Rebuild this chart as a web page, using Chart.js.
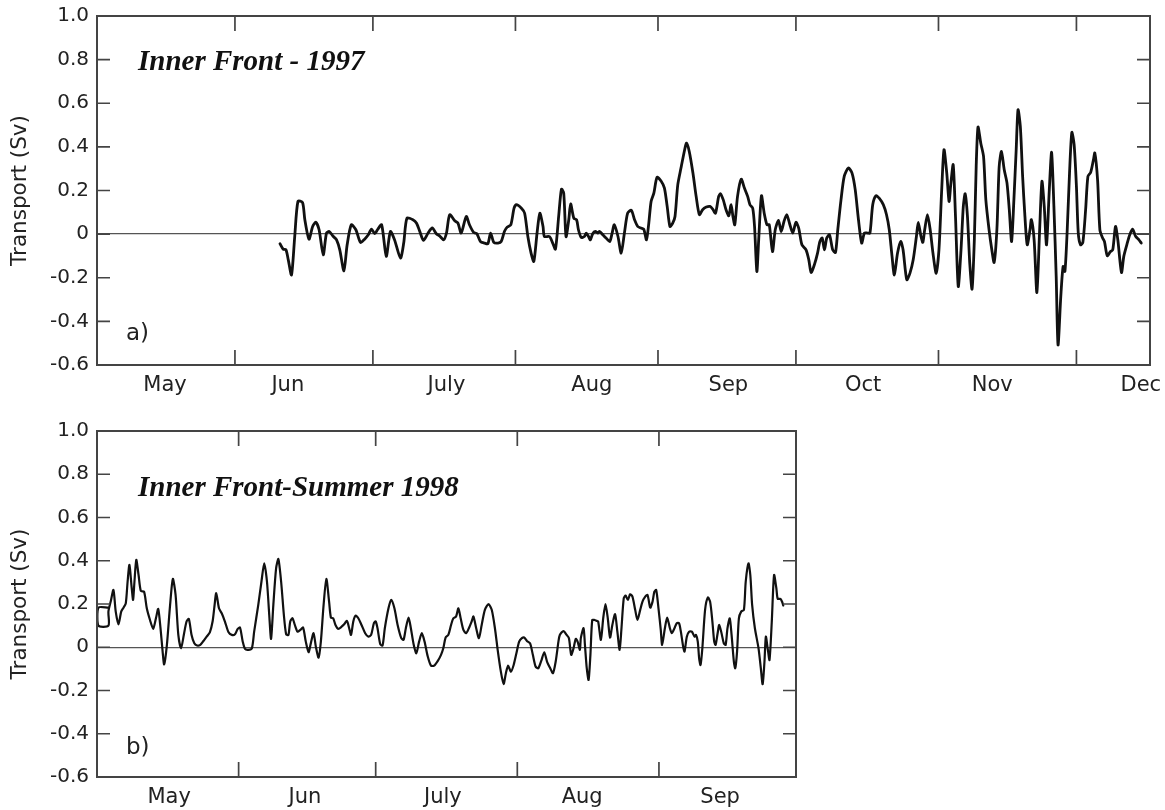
<!DOCTYPE html>
<html>
<head>
<meta charset="utf-8">
<title>Inner Front transport</title>
<script src="https://cdn.jsdelivr.net/npm/chart.js@4"></script>
<style>
  body { margin: 0; background: #fff; }
  canvas { position: absolute; left: 0; }
  #chart97 { top: 0; }
  #chart98 { top: 410px; }
</style>
</head>
<body>
<canvas id="chart97" width="1165" height="405"></canvas>
<canvas id="chart98" width="812" height="400"></canvas>
<script>
// x axis unit: days after 1 May
const monthNames97 = ['May', 'Jun', 'July', 'Aug', 'Sep', 'Oct', 'Nov', 'Dec'];
const monthLabelDays97 = [15.8, 42.5, 77.0, 108.6, 138.3, 167.6, 195.7, 228.0];
const monthStarts97 = [31, 61, 92, 123, 153, 184, 214];

const monthNames98 = ['May', 'Jun', 'July', 'Aug', 'Sep'];
const monthLabelDays98 = [15.8, 45.5, 75.7, 106.2, 136.4];
const monthStarts98 = [31, 61, 92, 123];

const yTickValues = [-0.6, -0.4, -0.2, 0, 0.2, 0.4, 0.6, 0.8, 1.0];

// 1997 record (Sv)
const days97 = [
  40.8, 41.5, 42.1, 42.6, 43.3, 44.0, 44.7, 45.7, 46.2, 47.1, 47.9, 48.6, 49.3, 50.2, 50.9, 51.5,
  52.4, 53.1, 53.8, 54.7, 55.4, 56.3, 57.3, 58.3, 59.2, 60.0, 60.7, 61.4, 62.0, 62.9, 63.9, 64.8,
  65.7, 67.0, 67.7, 68.4, 69.7, 70.5, 71.2, 72.0, 73.0, 73.9, 74.8, 75.5, 76.4, 77.0, 77.7, 78.8,
  79.5, 80.2, 81.3, 82.0, 82.9, 83.6, 84.4, 85.3, 86.0, 86.6, 87.3, 88.2, 88.9, 89.6, 90.2, 91.0,
  91.7, 92.2, 93.3, 94.0, 94.7, 95.4, 96.0, 96.7, 97.3, 98.0, 98.3, 99.4, 100.1, 100.7, 101.4, 102.0,
  102.5, 103.0, 103.6, 104.0, 104.7, 105.3, 105.7, 106.3, 107.0, 107.4, 107.9, 108.3, 108.8, 109.4, 109.9, 110.3,
  111.0, 111.7, 112.5, 113.0, 113.5, 114.3, 115.0, 115.7, 116.4, 117.2, 117.9, 118.6, 119.3, 119.9, 120.5, 121.0,
  121.5, 122.1, 122.8, 123.7, 124.4, 125.0, 125.6, 126.2, 126.7, 127.3, 128.0, 128.8, 129.2, 129.8, 130.6, 131.3,
  132.0, 132.7, 133.5, 134.3, 134.9, 135.5, 136.2, 136.6, 137.2, 137.8, 138.4, 138.9, 139.3, 139.7, 140.3, 141.1,
  141.8, 142.5, 143.0, 143.6, 144.0, 144.5, 144.9, 145.5, 146.1, 146.7, 147.2, 147.9, 148.5, 149.2, 149.8, 150.4,
  151.0, 151.6, 152.3, 153.0, 153.6, 154.3, 155.2, 155.8, 156.3, 157.0, 157.7, 158.2, 158.7, 159.2, 159.7, 160.3,
  161.0, 161.6, 162.1, 162.8, 163.5, 164.4, 165.2, 165.9, 166.6, 167.3, 167.9, 168.6, 169.1, 169.7, 170.4, 171.1,
  172.0, 172.7, 173.3, 173.9, 174.4, 175.1, 175.8, 176.3, 177.1, 177.8, 178.5, 179.2, 179.6, 180.2, 180.6, 181.0,
  181.6, 182.2, 182.8, 183.5, 184.1, 184.7, 185.2, 185.8, 186.3, 186.7, 187.2, 187.7, 188.3, 188.9, 189.4, 189.8,
  190.3, 190.8, 191.3, 191.8, 192.2, 192.6, 193.2, 193.8, 194.3, 195.0, 195.6, 196.1, 196.7, 197.2, 197.7, 198.3,
  198.9, 199.4, 199.9, 200.4, 200.9, 201.3, 201.8, 202.3, 202.8, 203.3, 203.9, 204.2, 204.8, 205.4, 206.0, 206.5,
  207.0, 207.5, 208.1, 208.6, 209.1, 209.6, 210.0, 210.6, 211.1, 211.5, 212.0, 212.5, 213.0, 213.5, 214.0, 214.4,
  214.9, 215.4, 216.0, 216.5, 217.1, 217.7, 218.0, 218.6, 219.1, 219.7, 220.1, 220.7, 221.4, 221.9, 222.5, 223.0,
  223.8, 224.3, 225.1, 225.6, 226.2, 226.9, 227.6, 228.1
];
const transport97 = [
  -0.044, -0.069, -0.072, -0.118, -0.187, -0.011, 0.150, 0.145, 0.066, -0.023, 0.035, 0.055, 0.020, -0.095, 0.005, 0.012,
  -0.011, -0.026, -0.072, -0.168, -0.049, 0.043, 0.020, -0.038, -0.023, -0.003, 0.023, 0.002, 0.020, 0.043, -0.102, 0.012,
  -0.026, -0.110, -0.041, 0.073, 0.066, 0.050, 0.012, -0.029, 0.005, 0.028, 0.002, -0.008, -0.026, 0.005, 0.089, 0.061,
  0.050, 0.005, 0.081, 0.043, 0.008, 0.002, -0.034, -0.041, -0.044, 0.005, -0.038, -0.041, -0.034, 0.012, 0.032, 0.043,
  0.119, 0.135, 0.119, 0.096, -0.011, -0.087, -0.125, 0.005, 0.096, 0.035, -0.011, -0.011, -0.041, -0.069, 0.081, 0.206,
  0.188, -0.011, 0.066, 0.139, 0.073, 0.066, 0.020, -0.015, -0.011, 0.005, -0.011, -0.026, 0.002, 0.012, 0.005, 0.012,
  -0.003, -0.018, -0.034, 0.002, 0.043, -0.011, -0.087, 0.005, 0.096, 0.109, 0.066, 0.035, 0.028, 0.023, -0.026, 0.050,
  0.150, 0.188, 0.261, 0.242, 0.211, 0.127, 0.035, 0.050, 0.081, 0.226, 0.303, 0.387, 0.417, 0.379, 0.280, 0.173,
  0.089, 0.112, 0.124, 0.127, 0.115, 0.096, 0.173, 0.185, 0.157, 0.112, 0.084, 0.135, 0.081, 0.043, 0.173, 0.252,
  0.211, 0.173, 0.135, 0.119, 0.035, -0.171, -0.026, 0.176, 0.096, 0.043, 0.043, -0.080, 0.020, 0.063, 0.012, 0.058,
  0.089, 0.050, 0.005, 0.054, 0.028, -0.049, -0.072, -0.118, -0.176, -0.141, -0.087, -0.034, -0.018, -0.072, -0.018, -0.003,
  -0.072, -0.084, 0.020, 0.157, 0.265, 0.303, 0.280, 0.203, 0.066, -0.041, 0.005, 0.005, 0.005, 0.135, 0.176, 0.165,
  0.135, 0.089, 0.020, -0.102, -0.187, -0.087, -0.034, -0.072, -0.209, -0.179, -0.118, -0.011, 0.054, -0.011, -0.038, 0.020,
  0.089, 0.020, -0.087, -0.179, -0.072, 0.203, 0.387, 0.280, 0.150, 0.234, 0.318, 0.081, -0.240, -0.072, 0.127, 0.185,
  0.081, -0.133, -0.252, -0.026, 0.310, 0.491, 0.417, 0.356, 0.157, 0.020, -0.072, -0.130, 0.020, 0.310, 0.379, 0.295,
  0.234, 0.112, -0.034, 0.157, 0.387, 0.570, 0.494, 0.265, 0.081, -0.049, 0.020, 0.066, -0.026, -0.268, 0.020, 0.242,
  0.127, -0.049, 0.203, 0.375, 0.127, -0.194, -0.508, -0.286, -0.148, -0.171, 0.020, 0.280, 0.466, 0.410, 0.219, 0.005,
  -0.049, -0.038, 0.112, 0.265, 0.283, 0.341, 0.372, 0.249, 0.020, -0.018, -0.034, -0.099, -0.080, -0.072, 0.035, -0.026,
  -0.176, -0.102, -0.038, -0.003, 0.023, -0.011, -0.026, -0.041
];

// summer 1998 record (Sv); the first few points trace the small loop at the start
const days98 = [
  2.5, 0.3, 0.3, 2.5, 2.5, 3.0, 3.6, 4.1, 4.7, 5.3, 5.8, 6.3, 6.7, 7.1, 7.6, 7.9,
  8.2, 8.6, 9.1, 9.6, 10.3, 10.9, 11.6, 12.3, 12.9, 13.4, 13.9, 14.4, 14.7, 15.3, 16.0, 16.6,
  17.2, 17.8, 18.4, 19.0, 19.6, 20.1, 20.7, 21.3, 21.9, 22.6, 23.3, 24.0, 24.7, 25.3, 25.7, 26.1,
  26.7, 27.3, 28.0, 28.8, 29.5, 30.2, 30.8, 31.3, 31.9, 32.4, 33.1, 33.9, 34.4, 35.3, 36.0, 36.6,
  37.2, 37.7, 38.1, 38.6, 39.2, 39.7, 40.3, 40.9, 41.4, 41.9, 42.3, 42.8, 43.3, 43.9, 44.5, 45.1,
  45.7, 46.3, 46.8, 47.4, 47.9, 48.5, 49.0, 49.6, 50.2, 50.8, 51.2, 51.7, 52.2, 52.8, 53.6, 54.1,
  54.7, 55.2, 55.6, 56.1, 56.6, 57.2, 57.9, 58.7, 59.4, 60.0, 60.6, 61.0, 61.4, 62.0, 62.5, 63.0,
  63.8, 64.4, 65.1, 65.8, 66.6, 67.1, 67.6, 68.2, 68.7, 69.3, 69.9, 70.5, 71.1, 71.7, 72.4, 73.1,
  73.8, 74.6, 75.3, 75.8, 76.3, 76.9, 77.5, 78.0, 78.6, 79.1, 79.6, 80.2, 80.8, 81.4, 82.0, 82.4,
  83.0, 83.6, 84.2, 84.9, 85.7, 86.4, 87.1, 87.7, 88.4, 89.0, 89.5, 90.0, 90.6, 91.2, 91.8, 92.4,
  93.0, 93.5, 94.1, 94.8, 95.4, 96.0, 96.6, 97.3, 97.9, 98.5, 99.2, 99.8, 100.4, 101.0, 101.3, 102.1,
  102.8, 103.3, 103.8, 104.3, 104.8, 105.2, 105.7, 105.9, 106.5, 106.8, 107.2, 107.6, 108.0, 108.4, 108.9, 109.4,
  109.7, 110.3, 110.8, 111.3, 111.8, 112.3, 112.8, 113.4, 113.9, 114.4, 114.8, 115.3, 115.7, 116.2, 116.7, 117.2,
  117.8, 118.3, 118.9, 119.4, 120.0, 120.5, 121.1, 121.6, 122.0, 122.4, 122.9, 123.4, 123.7, 124.3, 124.8, 125.4,
  125.8, 126.4, 126.9, 127.4, 127.8, 128.3, 128.6, 129.1, 129.6, 130.2, 130.8, 131.1, 131.5, 131.8, 132.1, 132.5,
  133.1, 133.7, 134.2, 134.7, 135.1, 135.4, 135.9, 136.2, 136.7, 137.2, 137.6, 138.0, 138.5, 138.9, 139.4, 139.7,
  140.1, 140.5, 141.0, 141.6, 142.0, 142.6, 143.0, 143.4, 144.0, 144.8, 145.3, 145.7, 146.1, 146.4, 146.8, 147.2,
  147.7, 148.2, 148.7, 149.0, 149.6, 150.0, 150.2
];
const transport98 = [
  0.183, 0.183, 0.100, 0.100, 0.165, 0.211, 0.265, 0.165, 0.106, 0.165, 0.183, 0.203, 0.304, 0.381, 0.273, 0.219,
  0.304, 0.404, 0.334, 0.260, 0.257, 0.180, 0.126, 0.085, 0.134, 0.177, 0.088, -0.028, -0.079, 0.011, 0.196, 0.316,
  0.242, 0.057, -0.005, 0.057, 0.119, 0.131, 0.057, 0.018, 0.008, 0.011, 0.029, 0.049, 0.069, 0.119, 0.188, 0.250,
  0.180, 0.157, 0.119, 0.069, 0.057, 0.060, 0.085, 0.091, 0.026, -0.008, -0.012, -0.005, 0.072, 0.196, 0.304, 0.388,
  0.304, 0.150, 0.039, 0.196, 0.365, 0.408, 0.304, 0.150, 0.060, 0.057, 0.119, 0.134, 0.103, 0.072, 0.080, 0.091,
  0.026, -0.023, 0.018, 0.065, 0.003, -0.048, 0.026, 0.196, 0.316, 0.211, 0.137, 0.134, 0.103, 0.085, 0.096, 0.106,
  0.122, 0.088, 0.057, 0.119, 0.146, 0.134, 0.103, 0.065, 0.049, 0.057, 0.111, 0.119, 0.088, 0.014, 0.008, 0.088,
  0.180, 0.219, 0.180, 0.103, 0.042, 0.034, 0.088, 0.137, 0.088, 0.014, -0.028, 0.026, 0.065, 0.026, -0.043, -0.085,
  -0.085, -0.063, -0.035, -0.005, 0.045, 0.057, 0.103, 0.134, 0.142, 0.180, 0.134, 0.080, 0.065, 0.088, 0.119, 0.142,
  0.088, 0.042, 0.103, 0.173, 0.199, 0.173, 0.088, -0.012, -0.113, -0.170, -0.120, -0.085, -0.113, -0.082, -0.028, 0.026,
  0.042, 0.045, 0.029, 0.018, -0.035, -0.089, -0.097, -0.059, -0.023, -0.066, -0.097, -0.120, -0.066, 0.026, 0.057, 0.075,
  0.057, 0.042, -0.035, -0.005, 0.039, 0.026, -0.012, 0.042, 0.088, 0.011, -0.097, -0.151, -0.035, 0.126, 0.126, 0.122,
  0.119, 0.034, 0.134, 0.199, 0.134, 0.045, 0.103, 0.153, 0.072, -0.012, 0.088, 0.227, 0.239, 0.219, 0.245, 0.234,
  0.173, 0.126, 0.173, 0.211, 0.234, 0.242, 0.183, 0.211, 0.257, 0.265, 0.180, 0.080, 0.011, 0.088, 0.137, 0.088,
  0.065, 0.088, 0.111, 0.111, 0.072, 0.003, -0.020, 0.049, 0.072, 0.072, 0.049, 0.057, 0.026, -0.051, -0.082, -0.005,
  0.173, 0.230, 0.211, 0.119, 0.026, 0.011, 0.072, 0.103, 0.065, 0.018, 0.011, 0.088, 0.134, 0.057, -0.066, -0.097,
  -0.020, 0.134, 0.165, 0.173, 0.304, 0.388, 0.334, 0.196, 0.088, -0.005, -0.097, -0.171, -0.066, 0.049, -0.005, -0.059,
  0.119, 0.334, 0.273, 0.224, 0.224, 0.208, 0.193
];

const SANS = '"DejaVu Sans", "Liberation Sans", sans-serif';
const INK = '#222';
const FRAME = '#444';

// box, inward tick marks and the panel captions
const panelFrame = {
  id: 'panelFrame',
  afterDraw(chart, args, opts) {
    const { ctx, chartArea: a, scales: { x, y } } = chart;
    ctx.save();
    ctx.strokeStyle = FRAME;
    ctx.lineWidth = 1.7;
    ctx.beginPath();
    opts.monthStarts.forEach(d => {
      const px = x.getPixelForValue(d);
      ctx.moveTo(px, a.top);
      ctx.lineTo(px, a.top + 15);
      ctx.moveTo(px, a.bottom);
      ctx.lineTo(px, a.bottom - 15);
    });
    yTickValues.forEach(v => {
      const py = y.getPixelForValue(v);
      ctx.moveTo(a.left, py);
      ctx.lineTo(a.left + 13, py);
      ctx.moveTo(a.right, py);
      ctx.lineTo(a.right - 13, py);
    });
    ctx.stroke();
    ctx.lineWidth = 2;
    ctx.strokeRect(a.left, a.top, a.right - a.left, a.bottom - a.top);

    ctx.fillStyle = '#111';
    ctx.textAlign = 'left';
    ctx.textBaseline = 'alphabetic';
    ctx.font = 'italic bold 29px "Liberation Serif", "Times New Roman", serif';
    ctx.fillText(opts.title, a.left + 41, a.top + opts.titleOffset);
    ctx.fillStyle = INK;
    ctx.font = '23px ' + SANS;
    ctx.fillText(opts.letter, a.left + 29, a.bottom - opts.letterOffset);
    ctx.restore();
  }
};

function makePanel(canvasId, cfg) {
  const points = cfg.days.map((d, i) => ({ x: d, y: cfg.values[i] }));
  return new Chart(document.getElementById(canvasId), {
    type: 'line',
    data: {
      datasets: [{
        data: points,
        borderColor: '#111',
        borderWidth: cfg.lineWidth,
        borderJoinStyle: 'round',
        borderCapStyle: 'round',
        pointRadius: 0,
        tension: 0.25,
        fill: false
      }]
    },
    options: {
      responsive: false,
      animation: false,
      events: [],
      layout: { padding: { left: 0, top: cfg.padTop, right: cfg.padRight, bottom: 0 } },
      plugins: {
        legend: { display: false },
        tooltip: { enabled: false },
        panelFrame: {
          monthStarts: cfg.monthStarts,
          title: cfg.title,
          titleOffset: cfg.titleOffset,
          letter: cfg.letter,
          letterOffset: cfg.letterOffset
        }
      },
      scales: {
        x: {
          type: 'linear',
          min: cfg.xMin,
          max: cfg.xMax,
          border: { display: false },
          grid: { display: false, drawTicks: false },
          afterBuildTicks: s => { s.ticks = cfg.labelDays.map(v => ({ value: v })); },
          afterFit: s => { s.height = cfg.xHeight; s.paddingLeft = 0; s.paddingRight = 0; },
          ticks: {
            autoSkip: false,
            maxRotation: 0,
            padding: 8,
            color: INK,
            font: { family: SANS, size: 21 },
            callback: (v, i) => cfg.labels[i]
          }
        },
        y: {
          min: -0.6,
          max: 1.0,
          border: { display: false },
          grid: {
            drawTicks: false,
            lineWidth: 1.3,
            color: c => (c.tick && Math.abs(c.tick.value) < 1e-9 ? '#555' : 'rgba(0,0,0,0)')
          },
          afterBuildTicks: s => { s.ticks = yTickValues.map(v => ({ value: v })); },
          afterFit: s => { s.width = 97; s.paddingTop = 0; s.paddingBottom = 0; },
          ticks: {
            padding: 8,
            color: INK,
            font: { family: SANS, size: 20 },
            callback: v => (Math.abs(v) < 1e-9 ? '0' : v.toFixed(1))
          },
          title: {
            display: true,
            text: 'Transport (Sv)',
            color: INK,
            font: { family: SANS, size: 21.5 },
            padding: { top: 8, bottom: 0 }
          }
        }
      }
    },
    plugins: [panelFrame]
  });
}

makePanel('chart97', {
  days: days97, values: transport97, lineWidth: 2.8,
  xMin: 1, xMax: 230,
  labels: monthNames97, labelDays: monthLabelDays97, monthStarts: monthStarts97,
  padTop: 16, padRight: 15, xHeight: 40,
  title: 'Inner Front - 1997', titleOffset: 54,
  letter: 'a)', letterOffset: 25
});

makePanel('chart98', {
  days: days98, values: transport98, lineWidth: 2.2,
  xMin: 0, xMax: 153,
  labels: monthNames98, labelDays: monthLabelDays98, monthStarts: monthStarts98,
  padTop: 21, padRight: 16, xHeight: 33,
  title: 'Inner Front-Summer 1998', titleOffset: 65,
  letter: 'b)', letterOffset: 23
});
</script>
</body>
</html>
